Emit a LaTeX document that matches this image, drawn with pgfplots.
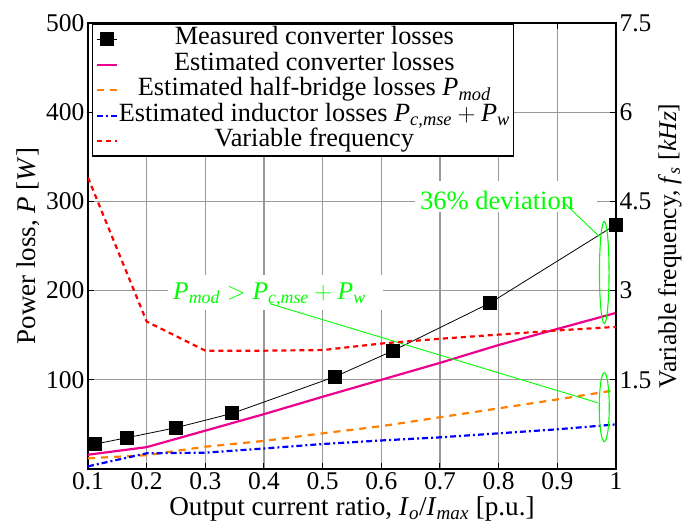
\documentclass[border=0pt]{standalone}
\usepackage{fontspec}
\setmainfont{Liberation Serif}
\usepackage{amsmath}
\usepackage{pgfplots}
\pgfplotsset{compat=1.18}
\definecolor{lgreen}{RGB}{0,255,0}
\definecolor{mymag}{RGB}{236,0,140}
\definecolor{myorange}{RGB}{255,128,0}
\newcommand{\ti}[1]{\textit{#1}}
\pgfplotsset{every axis/.append style={font=\fontsize{25bp}{30bp}\selectfont}}
\begin{document}
\begin{tikzpicture}[font=\fontsize{25bp}{30bp}\selectfont]
\begin{axis}[
  scale only axis, width=528bp, height=446bp,
  xmin=0.1, xmax=1, ymin=0, ymax=500,
  xtick={0.1,0.2,0.3,0.4,0.5,0.6,0.7,0.8,0.9,1},
  ytick={100,200,300,400,500},
  grid=major, major grid style={black!40, line width=1.2bp},
  axis line style={line width=1.2bp},
  major tick length=6bp,
  tick style={black, line width=1bp},
  /pgf/number format/assume math mode=true,
  tick label style={font=\fontsize{25.5bp}{30bp}\selectfont},
  xlabel={Output current ratio, \ti{I}$_{\ti{o}}$/\ti{I}$_{\ti{max}}$ [p.u.]},
  xlabel style={font=\fontsize{27.2bp}{32bp}\selectfont},
  ylabel={Power loss, \ti{P} [\ti{W}]},
  ylabel style={font=\fontsize{27bp}{32bp}\selectfont},
  legend style={at={(0.0076,0.998)}, anchor=north west, draw=black, line width=1.2bp,
    font=\fontsize{26.3bp}{30bp}\selectfont,
    nodes={inner sep=1bp, text height=17.5bp, text depth=6bp}},
  legend cell align=center,
  legend image code/.code={\draw[mark repeat=2, mark phase=2, #1] plot coordinates {(0bp,0bp) (10bp,0bp) (20bp,0bp)};},
  clip=false,
]
\addplot[black, line width=0.8bp, mark=square*, mark size=6.5bp] coordinates {
 (0.112,28) (0.166,35) (0.25,46.3) (0.346,62.4) (0.521,103.5) (0.619,132.3) (0.785,186) (1.0,274)};
\addlegendentry{Measured converter losses}
\addplot[mymag, line width=2.2bp] coordinates {
 (0.1,16) (0.2,24.5) (0.3,43) (0.4,61.5) (0.5,81) (0.6,100) (0.7,119) (0.8,139) (0.9,157) (1.0,175)};
\addlegendentry{Estimated converter losses}
\addplot[myorange, line width=2.2bp, dash pattern=on 7bp off 6bp] coordinates {
 (0.1,12) (0.2,15.5) (0.3,25) (0.4,31.5) (0.5,40) (0.6,48) (0.7,58) (0.8,68) (0.9,78) (1.0,88.5)};
\addlegendentry{Estimated half-bridge losses $\ti{P}_{\ti{mod}}$}
\addplot[blue, line width=2.2bp, dash pattern=on 6bp off 3bp on 2bp off 3bp] coordinates {
 (0.1,3) (0.2,17.6) (0.3,18.3) (0.4,23) (0.5,28) (0.6,32) (0.7,35.5) (0.8,40) (0.9,44.5) (1.0,50)};
\addlegendentry{Estimated inductor losses $\ti{P}_{\ti{c,mse}}+\ti{P}_{\ti{w}}$}
\addlegendimage{red, line width=2.2bp, dash pattern=on 5bp off 4bp}
\addlegendentry{Variable frequency}
% annotations
\fill[white] (axis cs:0.657,288) rectangle (axis cs:0.9676,322.9);
\node[anchor=base west, text=lgreen, inner sep=0pt, font=\fontsize{26.5bp}{30bp}\selectfont] at (axis cs:0.6659,291.1) {36\% deviation};
\draw[lgreen, line width=0.9bp] (axis cs:0.909,300) -- (axis cs:0.971,261);
\draw[lgreen, line width=1.1bp] (axis cs:0.980,220.3) ellipse [x radius=4.8bp, y radius=51bp];
\draw[lgreen, line width=1.1bp] (axis cs:0.980,69.3) ellipse [x radius=5bp, y radius=34.5bp];
\fill[white] (axis cs:0.2364,178.3) rectangle (axis cs:0.6028,217.5);
\draw[lgreen, line width=0.9bp] (axis cs:0.410,185.3) -- (axis cs:0.969,74.2);
\node[anchor=base west, text=lgreen, inner sep=0pt, font=\fontsize{25.5bp}{30bp}\selectfont] at (axis cs:0.2449,190.2)
  {$\ti{P}_{\ti{mod}} > \ti{P}_{\ti{c,mse}}+\ti{P}_{\ti{w}}$};
\end{axis}
\begin{axis}[
  scale only axis, width=528bp, height=446bp,
  xmin=0.1, xmax=1, ymin=0, ymax=7.5,
  axis x line=none, axis y line*=right,
  ytick={1.5,3,4.5,6,7.5},
  axis line style={line width=1.2bp},
  major tick length=6bp,
  tick style={black, line width=1bp},
  /pgf/number format/assume math mode=true,
  tick label style={font=\fontsize{25.5bp}{30bp}\selectfont},
  ylabel={Variable frequency, \ti{f}$_{\ti{s}}$ [\ti{kHz}]},
  ylabel style={font=\fontsize{25.5bp}{30bp}\selectfont},
]
\addplot[red, line width=2.2bp, dash pattern=on 5bp off 4bp] coordinates {
 (0.1,4.9) (0.2,2.48) (0.3,1.99) (0.4,1.99) (0.5,2.0) (0.6,2.11) (0.7,2.19) (0.8,2.26) (0.9,2.33) (1.0,2.39)};
\end{axis}
\pgfresetboundingbox
\path[use as bounding box] (-88bp,-57bp) rectangle (596bp,469bp);
\end{tikzpicture}
\end{document}
